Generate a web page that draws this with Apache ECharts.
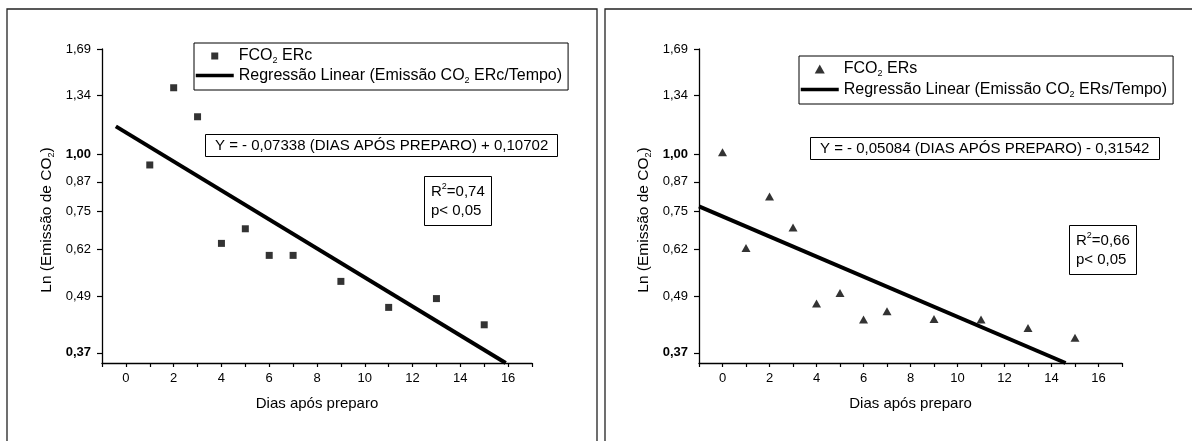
<!DOCTYPE html>
<html><head><meta charset="utf-8">
<script src="https://cdn.jsdelivr.net/npm/echarts@6/dist/echarts.min.js"></script>
<style>html,body{margin:0;padding:0;background:#fff}#c{width:1192px;height:441px}</style>
</head><body><div id="c"></div>
<script>
// ---- data ----
const yTickValues = [0.37, 0.49, 0.62, 0.75, 0.87, 1.00, 1.34, 1.69];
const yTickLabels = ['0,37', '0,49', '0,62', '0,75', '0,87', '1,00', '1,34', '1,69'];
const yBoldLabels = ['0,37', '1,00'];
const xTickLabels = [0, 2, 4, 6, 8, 10, 12, 14, 16];

// ERc panel (ln of CO2 emission)
const daysERc = [1, 2, 3, 4, 5, 6, 7, 9, 11, 13, 15];
const lnERc = [-0.055, 0.331, 0.186, -0.447, -0.374, -0.507, -0.507, -0.637, -0.767, -0.723, -0.854];
const fitDaysERc = [-0.42, 15.9];
const fitLnERc = [0.138, -1.045];

// ERs panel
const daysERs = [0, 1, 2, 3, 4, 5, 6, 7, 9, 11, 13, 15];
const lnERs = [0.008, -0.470, -0.213, -0.367, -0.748, -0.695, -0.828, -0.786, -0.825, -0.828, -0.870, -0.919];
const fitDaysERs = [-1, 14.6];
const fitLnERs = [-0.262, -1.045];

const eqERc = 'Y = - 0,07338 (DIAS APÓS PREPARO) + 0,10702';
const eqERs = 'Y = - 0,05084 (DIAS APÓS PREPARO) - 0,31542';
const r2ERc = '0,74';
const r2ERs = '0,66';
const pText = 'p< 0,05';

// ---- helpers ----
const FONT = '"Liberation Sans", Arial, sans-serif';
const lnTicks = yTickValues.map(v => Math.log(v));
const yMin = -1.045;
const yMax = Math.log(1.69);
const zip = (a, b) => a.map((v, i) => [v, b[i]]);

function richSet(size, lh) {
  return {
    a: { fontSize: size, fontFamily: FONT, color: '#000', lineHeight: lh },
    sub: { fontSize: 9, fontFamily: FONT, color: '#000', padding: [10, 0, 0, 0] },
    sup: { fontSize: 9, fontFamily: FONT, color: '#000', padding: [0, 0, 9, 0] }
  };
}

function legendFmt(name) {
  if (name.indexOf('FCO2') === 0) return '{a|FCO}{sub|2}{a|' + name.slice(4) + '}';
  const m = name.match(/(ER.)/)[1];
  return '{a|Regressão Linear (Emissão CO}{sub|2}{a| ' + m + '/Tempo)}';
}

function yLabelFmt(v) {
  let idx = 0, best = 1e9;
  lnTicks.forEach((t, i) => { if (Math.abs(t - v) < best) { best = Math.abs(t - v); idx = i; } });
  const l = yTickLabels[idx];
  return yBoldLabels.indexOf(l) >= 0 ? '{b|' + l + '}' : '{n|' + l + '}';
}

function makeX(gridIndex) {
  return {
    type: 'value', gridIndex, min: -1, max: 17, interval: 1,
    name: 'Dias após preparo', nameLocation: 'middle', nameGap: 33,
    nameTextStyle: { fontSize: 15, fontFamily: FONT, color: '#000' },
    axisLine: { onZero: false, lineStyle: { color: '#000', width: 1.3 } },
    axisTick: { length: 4, lineStyle: { color: '#000', width: 1.2 } },
    axisLabel: { customValues: xTickLabels, fontSize: 13, fontFamily: FONT, color: '#000', margin: 9 },
    splitLine: { show: false }
  };
}
function makeY(gridIndex) {
  return {
    type: 'value', gridIndex, min: yMin, max: yMax,
    name: '{a|Ln (Emissão de CO}{sub|2}{a|)}', nameLocation: 'middle', nameRotate: 90, nameGap: 46,
    nameTextStyle: { padding: [0, 28, 0, 0], rich: richSet(15.5, 18) },
    axisLine: { onZero: false, lineStyle: { color: '#000', width: 1.3 } },
    axisTick: { customValues: lnTicks, length: 5, lineStyle: { color: '#000', width: 1.2 } },
    axisLabel: {
      customValues: lnTicks, formatter: yLabelFmt, margin: 11,
      rich: {
        n: { fontSize: 13, fontFamily: FONT, color: '#000' },
        b: { fontSize: 13, fontFamily: FONT, color: '#000', fontWeight: 'bold' }
      }
    },
    splitLine: { show: false }
  };
}
function makeLegend(left, top, names, icon, iconH, gap) {
  return {
    orient: 'vertical', left, top, padding: [5, 6, 5, 0], itemGap: gap,
    itemWidth: 38, itemHeight: iconH, selectedMode: false, symbolKeepAspect: true,
    borderColor: '#000', borderWidth: 1, borderRadius: 0,
    lineStyle: { width: 3.5 },
    data: [
      { name: names[0], icon },
      { name: names[1], itemStyle: { opacity: 0 } }
    ],
    formatter: legendFmt,
    textStyle: { rich: richSet(16, 18) }
  };
}
function boxTitle(text, left, top, padding) {
  return {
    text, left, top, padding, borderColor: '#000', borderWidth: 1,
    textStyle: { fontSize: 15, fontWeight: 'normal', fontFamily: FONT, color: '#000', lineHeight: 19, rich: {
      a: { fontSize: 15, fontFamily: FONT, color: '#000', lineHeight: 19 },
      sup: { fontSize: 9, fontFamily: FONT, color: '#000', padding: [0, 0, 9, 0] }
    } }
  };
}

const squareIcon = 'path://M0,0H10V10H0Z';
const triangleIcon = 'path://M5,0L10,9L0,9Z';

const option = {
  animation: false,
  backgroundColor: '#fff',
  textStyle: { fontFamily: FONT },
  grid: [
    { left: 102, top: 49, width: 430, height: 314 },
    { left: 699, top: 49, width: 423, height: 314 }
  ],
  xAxis: [makeX(0), makeX(1)],
  yAxis: [makeY(0), makeY(1)],
  legend: [
    makeLegend(194, 43, ['FCO2 ERc', 'Regressão Linear ERc'], squareIcon, 7, 2),
    makeLegend(799, 56, ['FCO2 ERs', 'Regressão Linear ERs'], triangleIcon, 9, 3)
  ],
  title: [
    boxTitle(eqERc, 205, 134, [2, 10]),
    boxTitle('{a|R}{sup|2}{a|=' + r2ERc + '}\n{a|' + pText + '}', 424, 176, [6, 7]),
    boxTitle(eqERs, 810, 137, [2, 10]),
    boxTitle('{a|R}{sup|2}{a|=' + r2ERs + '}\n{a|' + pText + '}', 1069, 225, [6, 7])
  ],
  graphic: [
    { type: 'rect', silent: true, shape: { x: 7, y: 9, width: 590, height: 480 }, style: { fill: 'none', stroke: '#222', lineWidth: 1.3 } },
    { type: 'rect', silent: true, shape: { x: 605, y: 9, width: 620, height: 480 }, style: { fill: 'none', stroke: '#222', lineWidth: 1.3 } }
  ],
  series: [
    { name: 'FCO2 ERc', type: 'scatter', xAxisIndex: 0, yAxisIndex: 0, symbol: 'rect', symbolSize: 7,
      itemStyle: { color: '#000' }, data: zip(daysERc, lnERc) },
    { name: 'Regressão Linear ERc', type: 'line', xAxisIndex: 0, yAxisIndex: 0, symbol: 'none', clip: true,
      lineStyle: { color: '#000', width: 4 }, itemStyle: { color: '#000' }, data: zip(fitDaysERc, fitLnERc) },
    { name: 'FCO2 ERs', type: 'scatter', xAxisIndex: 1, yAxisIndex: 1, symbol: 'triangle', symbolSize: [9, 8],
      itemStyle: { color: '#000' }, data: zip(daysERs, lnERs) },
    { name: 'Regressão Linear ERs', type: 'line', xAxisIndex: 1, yAxisIndex: 1, symbol: 'none', clip: true,
      lineStyle: { color: '#000', width: 4 }, itemStyle: { color: '#000' }, data: zip(fitDaysERs, fitLnERs) }
  ]
};
echarts.init(document.getElementById('c')).setOption(option);
</script></body></html>
